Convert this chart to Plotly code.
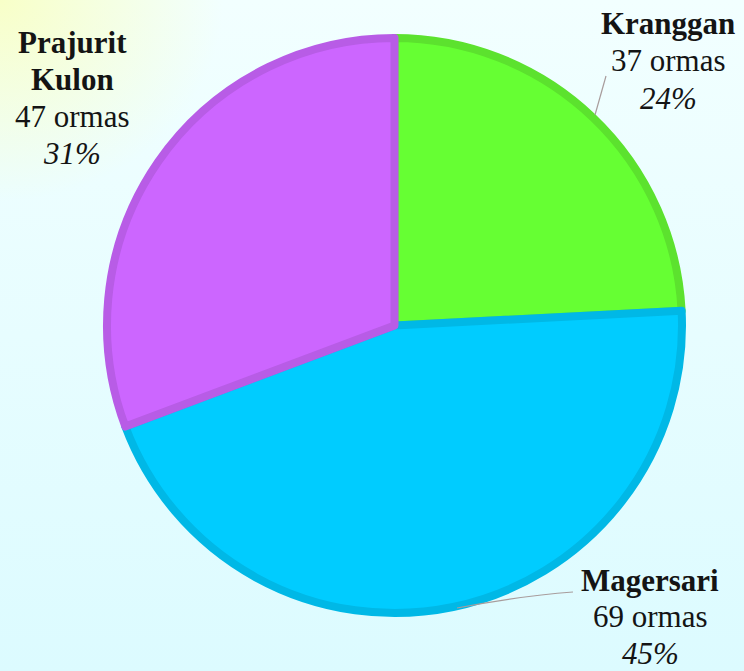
import base64
import plotly.graph_objects as go

# ---- data ----
categories = ["Kranggan", "Magersari", "Prajurit Kulon"]
name_lines = [["Kranggan"], ["Magersari"], ["Prajurit", "Kulon"]]
values = [37, 69, 47]
percent_labels = ["24%", "45%", "31%"]
unit = "ormas"

# ---- styles ----
fill_colors = ["#66FF33", "#00CCFF", "#CC66FF"]
border_colors = ["#5CE22E", "#00B8E6", "#B85CE6"]

W, H = 744, 671

# background gradient (svg data uri)
svg = f'''<svg xmlns="http://www.w3.org/2000/svg" width="{W}" height="{H}">
<defs>
<linearGradient id="g" x1="0" y1="0" x2="0" y2="1">
<stop offset="0" stop-color="#F2FFFF"/>
<stop offset="1" stop-color="#DCFBFF"/>
</linearGradient>
<radialGradient id="y" cx="0" cy="0" r="0.3">
<stop offset="0" stop-color="#F8FFC8" stop-opacity="1"/>
<stop offset="1" stop-color="#F8FFC8" stop-opacity="0"/>
</radialGradient>
</defs>
<rect width="{W}" height="{H}" fill="url(#g)"/>
<rect width="{W}" height="{H}" fill="url(#y)"/>
</svg>'''
bg_uri = "data:image/svg+xml;base64," + base64.b64encode(svg.encode()).decode()

cx, cy, r = 394.5, 325.5, 287.5
dom_x = [(cx - r) / W, (cx + r) / W]
dom_y = [(H - cy - r) / H, (H - cy + r) / H]

fig = go.Figure(go.Pie(
    labels=categories,
    values=values,
    sort=False,
    direction="clockwise",
    rotation=0,
    textinfo="none",
    hoverinfo="label+value+percent",
    marker=dict(colors=fill_colors, line=dict(color=border_colors, width=8)),
    domain=dict(x=dom_x, y=dom_y),
    showlegend=False,
))

font_family = "Liberation Serif, Times New Roman, serif"
FS = 31
label_pos = {  # center x, first baseline y, line step (px)
    "Kranggan": (668, 35, 37.5),
    "Magersari": (650, 592, 36.5),
    "Prajurit Kulon": (72, 54, 37.2),
}
annotations = []
for cat, nl, v, p in zip(categories, name_lines, values, percent_labels):
    x, y0, step = label_pos[cat]
    lines = [f"<b>{s}</b>" for s in nl] + [f"{v} {unit}", f"<i>{p}</i>"]
    for i, t in enumerate(lines):
        base = y0 + i * step
        annotations.append(dict(
            x=x / W, y=1 - (base + 0.216 * FS + 1) / H,
            xref="paper", yref="paper",
            xanchor="center", yanchor="bottom", showarrow=False,
            text=t,
            font=dict(family=font_family, size=FS, color="#141414"),
        ))

def P(x, y):
    return f"{x / W:.5f},{1 - y / H:.5f}"

shapes = [
    dict(type="path", xref="paper", yref="paper",
         path=f"M{P(595,115)} L{P(606,76)}",
         line=dict(color="#A89C9C", width=1.2)),
    dict(type="path", xref="paper", yref="paper",
         path=f"M{P(457,608)} Q{P(520,596)} {P(573,592)}",
         line=dict(color="#A89C9C", width=1.2)),
]

fig.update_layout(
    width=W, height=H,
    margin=dict(l=0, r=0, t=0, b=0),
    paper_bgcolor="#E8FEFF",
    plot_bgcolor="rgba(0,0,0,0)",
    annotations=annotations,
    shapes=shapes,
    images=[dict(source=bg_uri, xref="paper", yref="paper", x=0, y=1,
                 sizex=1, sizey=1, sizing="stretch", layer="below",
                 xanchor="left", yanchor="top")],
)

fig.write_html("out.html", config={"displayModeBar": False},
               post_script="document.body.style.margin='0';")
